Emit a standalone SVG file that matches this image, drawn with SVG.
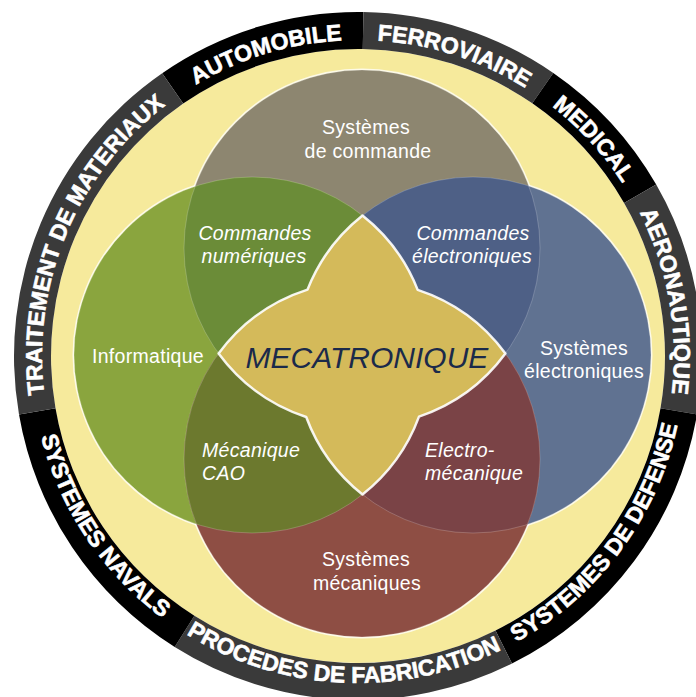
<svg xmlns="http://www.w3.org/2000/svg" xmlns:xlink="http://www.w3.org/1999/xlink" width="696" height="697" viewBox="0 0 696 697">
<style>
.seg-a{fill:#000000}
.seg-b{fill:#3a3a3a}
.ring{font-family:"Liberation Sans",Arial,sans-serif;font-weight:bold;font-size:23px;fill:#ffffff;stroke:#ffffff;stroke-width:0.6px}
.lbl{font-family:"Liberation Sans",Arial,sans-serif;font-size:19.5px;fill:#ffffff;letter-spacing:0.3px}
.it{font-style:italic}
.title{font-family:"Liberation Sans",Arial,sans-serif;font-style:italic;font-size:30px;fill:#1b2a4a}
.edge{fill:none;stroke:#ffffff;stroke-opacity:0.2;stroke-width:1}
</style>
<defs>
<clipPath id="cT"><circle cx="362" cy="248" r="178"/></clipPath>
<clipPath id="cL"><circle cx="252" cy="355" r="178"/></clipPath>
<clipPath id="cR"><circle cx="473" cy="355" r="178"/></clipPath>
<path id="pTrait" d="M 46.6 409.8 A 316 316 0 0 1 178.1 96.2"/>
<path id="pAuto" d="M 178.1 96.2 A 316 316 0 0 1 363 40"/>
<path id="pFerro" d="M 363 40 A 316 316 0 0 1 537.4 95.9"/>
<path id="pMed" d="M 537.4 95.9 A 316 316 0 0 1 631.9 198.5"/>
<path id="pAero" d="M 631.9 198.5 A 316 316 0 0 1 669.4 409.8"/>
<path id="pDef" d="M 504.4 648.4 A 327 327 0 0 0 680.2 411.7"/>
<path id="pProc" d="M 183.7 632.7 A 327 327 0 0 0 504.4 648.4"/>
<path id="pNav" d="M 35.8 411.7 A 327 327 0 0 0 183.7 632.7"/>
</defs>

<g id="background">
<circle cx="358" cy="356" r="307" fill="#f6ea9c"/>
</g>

<g id="ring-automobile">
<path class="seg-a" d="M 162.2 73.2 A 344 344 0 0 1 363.4 12 L 362.8 49 A 307 307 0 0 0 183.2 103.6 Z"/>
<text class="ring"><textPath xlink:href="#pAuto" href="#pAuto" startOffset="50%" text-anchor="middle">AUTOMOBILE</textPath></text>
</g>
<g id="ring-ferroviaire">
<path class="seg-b" d="M 363.4 12 A 344 344 0 0 1 553.3 72.9 L 532.3 103.3 A 307 307 0 0 0 362.8 49 Z"/>
<text class="ring"><textPath xlink:href="#pFerro" href="#pFerro" startOffset="50%" text-anchor="middle">FERROVIAIRE</textPath></text>
</g>
<g id="ring-medical">
<path class="seg-a" d="M 553.3 72.9 A 344 344 0 0 1 656.2 184.5 L 624.1 203 A 307 307 0 0 0 532.3 103.3 Z"/>
<text class="ring"><textPath xlink:href="#pMed" href="#pMed" startOffset="50%" text-anchor="middle">MEDICAL</textPath></text>
</g>
<g id="ring-aeronautique">
<path class="seg-b" d="M 656.2 184.5 A 344 344 0 0 1 697 414.5 L 660.5 408.3 A 307 307 0 0 0 624.1 203 Z"/>
<text class="ring"><textPath xlink:href="#pAero" href="#pAero" startOffset="50%" text-anchor="middle">AERONAUTIQUE</textPath></text>
</g>
<g id="ring-defense">
<path class="seg-a" d="M 697 414.5 A 344 344 0 0 1 512 663.6 L 495.5 630.5 A 307 307 0 0 0 660.5 408.3 Z"/>
<text class="ring"><textPath xlink:href="#pDef" href="#pDef" startOffset="50%" text-anchor="middle">SYSTEMES DE DEFENSE</textPath></text>
</g>
<g id="ring-procedes">
<path class="seg-b" d="M 512 663.6 A 344 344 0 0 1 174.7 647.1 L 194.4 615.8 A 307 307 0 0 0 495.5 630.5 Z"/>
<text class="ring"><textPath xlink:href="#pProc" href="#pProc" startOffset="50%" text-anchor="middle">PROCEDES DE FABRICATION</textPath></text>
</g>
<g id="ring-navals">
<path class="seg-a" d="M 174.7 647.1 A 344 344 0 0 1 19 414.5 L 55.5 408.3 A 307 307 0 0 0 194.4 615.8 Z"/>
<text class="ring"><textPath xlink:href="#pNav" href="#pNav" startOffset="50%" text-anchor="middle">SYSTEMES NAVALS</textPath></text>
</g>
<g id="ring-traitement">
<path class="seg-b" d="M 19 414.5 A 344 344 0 0 1 162.2 73.2 L 183.2 103.6 A 307 307 0 0 0 55.5 408.3 Z"/>
<text class="ring"><textPath xlink:href="#pTrait" href="#pTrait" startOffset="50%" text-anchor="middle">TRAITEMENT DE MATERIAUX</textPath></text>
</g>

<g id="circle-outlines" fill="none" stroke="#ffffff" stroke-opacity="0.75" stroke-width="3">
<circle cx="362" cy="248" r="178"/>
<circle cx="252" cy="355" r="178"/>
<circle cx="473" cy="355" r="178"/>
<circle cx="362" cy="459" r="178"/>
</g>

<g id="systemes-de-commande">
<circle cx="362" cy="248" r="178" fill="#8d8670"/>
<text class="lbl" x="366" y="134" text-anchor="middle">Systèmes</text>
<text class="lbl" x="368" y="158" text-anchor="middle">de commande</text>
</g>
<g id="informatique">
<circle cx="252" cy="355" r="178" fill="#8aa53e"/>
<text class="lbl" x="148" y="363" text-anchor="middle">Informatique</text>
</g>
<g id="systemes-electroniques">
<circle cx="473" cy="355" r="178" fill="#607291"/>
<text class="lbl" x="584" y="355" text-anchor="middle">Systèmes</text>
<text class="lbl" x="584" y="378" text-anchor="middle">électroniques</text>
</g>
<g id="systemes-mecaniques">
<circle cx="362" cy="459" r="178" fill="#8e4e44"/>
<text class="lbl" x="366" y="566" text-anchor="middle">Systèmes</text>
<text class="lbl" x="367" y="590" text-anchor="middle">mécaniques</text>
</g>

<g id="commandes-numeriques">
<circle cx="252" cy="355" r="178" fill="#6b8c38" clip-path="url(#cT)"/>
<text class="lbl it" x="255" y="240" text-anchor="middle">Commandes</text>
<text class="lbl it" x="254" y="263" text-anchor="middle">numériques</text>
</g>
<g id="commandes-electroniques">
<circle cx="473" cy="355" r="178" fill="#4e6086" clip-path="url(#cT)"/>
<text class="lbl it" x="473" y="240" text-anchor="middle">Commandes</text>
<text class="lbl it" x="472" y="263" text-anchor="middle">électroniques</text>
</g>
<g id="mecanique-cao">
<circle cx="362" cy="459" r="178" fill="#6c792e" clip-path="url(#cL)"/>
<text class="lbl it" x="202" y="457">Mécanique</text>
<text class="lbl it" x="202" y="480">CAO</text>
</g>
<g id="electro-mecanique">
<circle cx="362" cy="459" r="178" fill="#7a4346" clip-path="url(#cR)"/>
<text class="lbl it" x="425" y="457">Electro-</text>
<text class="lbl it" x="425" y="480">mécanique</text>
</g>

<g id="inner-edges">
<circle class="edge" cx="362" cy="248" r="178"/>
<circle class="edge" cx="252" cy="355" r="178"/>
<circle class="edge" cx="473" cy="355" r="178"/>
<circle class="edge" cx="362" cy="459" r="178"/>
</g>

<g id="mecatronique">
<path d="M 218.6 353.5 A 178 178 0 0 1 307.5 289.6 A 178 178 0 0 1 362.5 215.5 A 178 178 0 0 1 417.7 289.9 A 178 178 0 0 1 505.4 353.5 A 178 178 0 0 1 419 416.6 A 178 178 0 0 1 362.5 494.5 A 178 178 0 0 1 306.2 417 A 178 178 0 0 1 218.6 353.5 Z" fill="#d4ba5a" stroke="#ffffff" stroke-opacity="0.9" stroke-width="2.5" stroke-linejoin="round"/>
<text class="title" x="367" y="368" text-anchor="middle">MECATRONIQUE</text>
</g>

<g id="connectors"/>
</svg>
